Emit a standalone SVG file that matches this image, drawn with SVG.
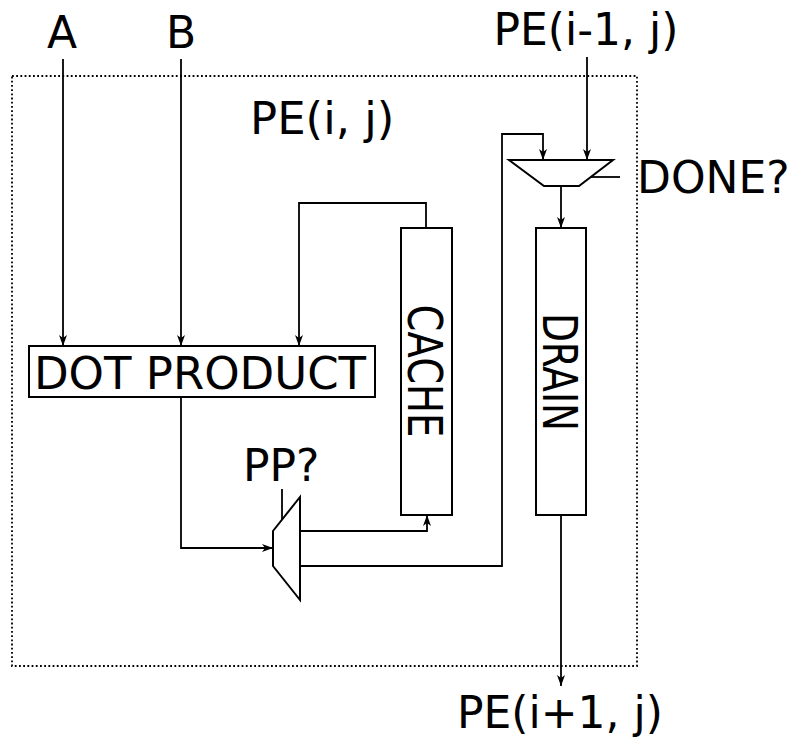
<svg xmlns="http://www.w3.org/2000/svg" width="790" height="739" viewBox="0 0 790 739">
<style>
  text { font-family: "DejaVu Sans", "Liberation Sans", sans-serif; font-size: 44px; fill: #000; }
  .box { fill: #fff; stroke: #000; stroke-width: 2; }
  .wire { fill: none; stroke: #000; stroke-width: 1.8; }
  .arr { marker-end: url(#ah); }
  .frame { fill: none; stroke: #000; stroke-width: 1.8; stroke-dasharray: 1.8 2.4; }
</style>
<defs>
  <marker id="ah" markerUnits="userSpaceOnUse" markerWidth="14" markerHeight="10" viewBox="-12 -5 14 10" refX="0" refY="0" orient="auto">
    <path d="M0,0 L-11,-4 L-8,0 L-11,4 z" fill="#000"/>
  </marker>
</defs>
<rect id="pe-frame" class="frame" x="12" y="76" width="625" height="590"/>
<g id="labels">
  <text x="62" y="48" text-anchor="middle">A</text>
  <text x="181" y="48" text-anchor="middle">B</text>
  <text x="586" y="45" text-anchor="middle">PE(i-1, j)</text>
  <text x="250" y="134" style="font-size:45px">PE(i, j)</text>
  <text x="637" y="193">DONE?</text>
  <text x="243" y="481">PP?</text>
  <text x="560" y="728" text-anchor="middle">PE(i+1, j)</text>
</g>
<g id="connectors">
  <path class="wire arr" d="M63,59 V346"/>
  <path class="wire arr" d="M181,59 V346"/>
  <path class="wire arr" d="M426,228 V203 H299 V346"/>
  <path class="wire arr" d="M181,397 V548 H273"/>
  <path class="wire arr" d="M300,531 H427 V515"/>
  <path class="wire arr" d="M300,566 H502 V134 H543 V160"/>
  <path class="wire arr" d="M587,57 V160"/>
  <path class="wire" d="M590,177 H620"/>
  <path class="wire" d="M282,489 V520"/>
  <path class="wire arr" d="M561,186 V228"/>
  <path class="wire arr" d="M561,515 V686"/>
</g>
<g id="dot-product">
  <rect class="box" x="29" y="346" width="346" height="51"/>
  <text x="200" y="389" text-anchor="middle" style="font-size:45px">DOT PRODUCT</text>
</g>
<g id="cache">
  <rect class="box" x="401" y="228" width="51" height="287"/>
  <text transform="translate(408,371) rotate(90)" text-anchor="middle" style="font-size:48px" textLength="133" lengthAdjust="spacingAndGlyphs">CACHE</text>
</g>
<g id="drain">
  <rect class="box" x="536" y="228" width="50" height="287"/>
  <text transform="translate(543,372) rotate(90)" text-anchor="middle" style="font-size:48px" textLength="118" lengthAdjust="spacingAndGlyphs">DRAIN</text>
</g>
<g id="pp-mux">
  <polygon class="box" points="273,531 300,497 300,600 273,566"/>
</g>
<g id="done-mux">
  <polygon class="box" points="509,160 613,160 579,186 544,186"/>
</g>
</svg>
